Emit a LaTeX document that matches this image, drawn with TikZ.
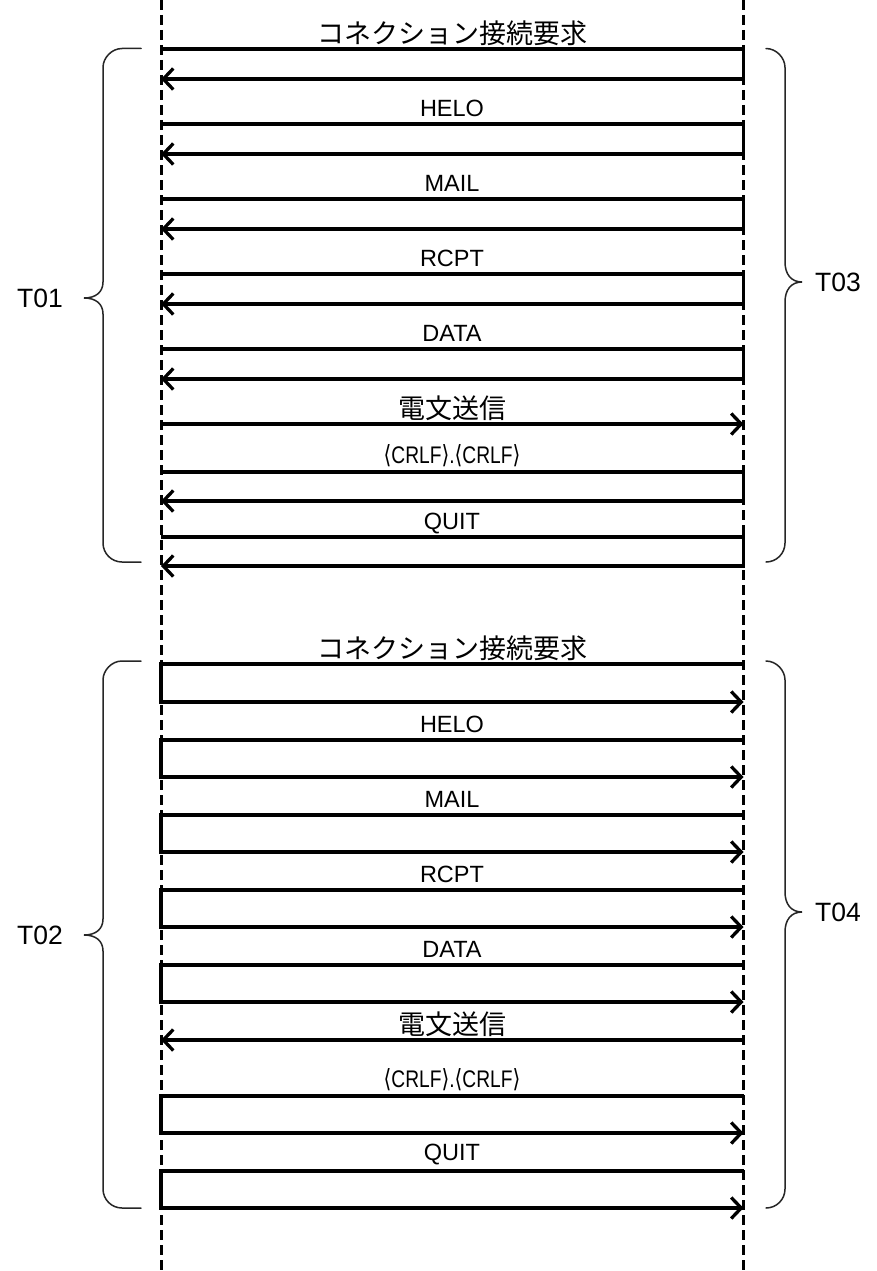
\documentclass[tikz,border=0pt]{standalone}
\usepackage{fontspec}
\setmainfont{Liberation Sans}
\newfontfamily\jp{Noto Sans CJK JP}
\newfontfamily\djv{DejaVu Sans}
\usetikzlibrary{arrows.meta}
\tikzset{
  lifeline/.style={line width=3pt, dash pattern=on 10pt off 5pt},
  msg/.style={line width=3.3pt, miter limit=4, -{Straight Barb[length=10pt,width=21pt]}},
  bracepath/.style={line width=1.5pt, draw=black!85, line cap=round},
  jlbl/.style={font=\jp\fontsize{27}{27}\selectfont, inner sep=0pt},
  elbl/.style={font=\fontsize{23.5}{23.5}\selectfont, inner sep=0pt},
  tlbl/.style={font=\fontsize{26.5}{26.5}\selectfont, inner sep=0pt},
}
\newcommand{\crlf}{\scalebox{0.8}[1]{\fontsize{24}{24}\selectfont{\djv\fontsize{25}{25}\selectfont ⟨}CRLF{\djv\fontsize{25}{25}\selectfont ⟩}.{\djv\fontsize{25}{25}\selectfont ⟨}CRLF{\djv\fontsize{25}{25}\selectfont ⟩}}}
\begin{document}
\begin{tikzpicture}[x=1pt,y=-1pt]
\useasboundingbox[fill=white] (0,0) rectangle (876,1271);
% lifelines
\coordinate (LT) at (161,0); \coordinate (LB) at (161,1271);
\coordinate (RT) at (743.5,0); \coordinate (RB) at (743.5,1271);
\draw[lifeline] (LT) -- (LB);
\draw[lifeline] (RT) -- (RB);

% ---------- upper group (returns to left) ----------
\foreach \n/\ya/\yb in {u1/49/79, u2/124/154, u3/199/229, u4/274/304, u5/349/379, u7/472/501, u8/537/566}{
  \coordinate (\n a) at (161,\ya);
  \coordinate (\n b) at (743.5,\ya);
  \coordinate (\n c) at (743.5,\yb);
  \coordinate (\n d) at (161,\yb);
  \draw[msg] (\n a) -- (\n b) -- (\n c) -- (\n d);
}
\coordinate (u6a) at (161,424); \coordinate (u6b) at (743.5,424);
\draw[msg] (u6a) -- (u6b);

\node[jlbl] (tu1) at (452,33) {コネクション接続要求};
\node[elbl] (tu2) at (452,108) {HELO};
\node[elbl] (tu3) at (452,183) {MAIL};
\node[elbl] (tu4) at (452,258) {RCPT};
\node[elbl] (tu5) at (452,333) {DATA};
\node[jlbl] (tu6) at (452,408) {電文送信};
\node[elbl] (tu7) at (452,456) {\crlf};
\node[elbl] (tu8) at (452,524) {QUIT};

% ---------- lower group (goes to right) ----------
\foreach \n/\ya/\yb in {d1/664/702, d2/740/777, d3/815/852, d4/890/927, d5/965/1002, d7/1096/1133, d8/1171/1208}{
  \coordinate (\n a) at (743.5,\ya);
  \coordinate (\n b) at (161,\ya);
  \coordinate (\n c) at (161,\yb);
  \coordinate (\n d) at (743.5,\yb);
  \draw[msg] (\n a) -- (\n b) -- (\n c) -- (\n d);
}
\coordinate (d6a) at (743.5,1040); \coordinate (d6b) at (161,1040);
\draw[msg] (d6a) -- (d6b);

\node[jlbl] (td1) at (452,648) {コネクション接続要求};
\node[elbl] (td2) at (452,724) {HELO};
\node[elbl] (td3) at (452,799) {MAIL};
\node[elbl] (td4) at (452,874) {RCPT};
\node[elbl] (td5) at (452,949) {DATA};
\node[jlbl] (td6) at (452,1024) {電文送信};
\node[elbl] (td7) at (452,1080) {\crlf};
\node[elbl] (td8) at (452,1155) {QUIT};

% ---------- braces ----------
% upper left (T01)
\draw[bracepath] (141,48.5) -- (122,48.5) .. controls (111.5,48.5) and (103,58) .. (103,67.5)
  -- (103,282) .. controls (103,292) and (96,298) .. (84,298)
  .. controls (96,298) and (103,304) .. (103,314)
  -- (103,543) .. controls (103,553.5) and (111.5,562) .. (122,562) -- (141,562);
% upper right (T03)
\draw[bracepath] (766,48.5) .. controls (776.5,48.5) and (785,58) .. (785,67.5)
  -- (785,262) .. controls (785,274) and (791,282) .. (802,282)
  .. controls (791,282) and (785,290) .. (785,302)
  -- (785,543) .. controls (785,553.5) and (776.5,562) .. (766,562);
% lower left (T02)
\draw[bracepath] (141,661) -- (122,661) .. controls (111.5,661) and (103,670.5) .. (103,680)
  -- (103,919) .. controls (103,929) and (96,935) .. (84,935)
  .. controls (96,935) and (103,941) .. (103,951)
  -- (103,1189) .. controls (103,1199.5) and (111.5,1208) .. (122,1208) -- (141,1208);
% lower right (T04)
\draw[bracepath] (766,661) .. controls (776.5,661) and (785,670.5) .. (785,680)
  -- (785,892) .. controls (785,904) and (791,912) .. (802,912)
  .. controls (791,912) and (785,920) .. (785,932)
  -- (785,1189) .. controls (785,1199.5) and (776.5,1208) .. (766,1208);

\node[tlbl] (T01) at (40,298) {T01};
\node[tlbl] (T03) at (838,282) {T03};
\node[tlbl] (T02) at (40,935) {T02};
\node[tlbl] (T04) at (838,912) {T04};
\end{tikzpicture}
\end{document}
